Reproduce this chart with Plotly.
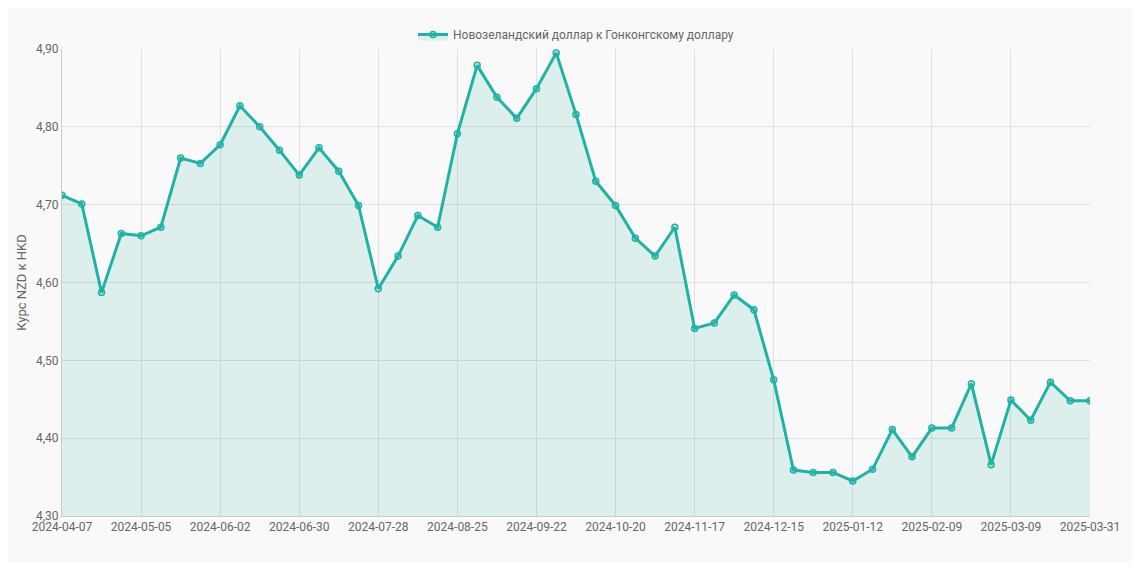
import plotly.graph_objects as go
import datetime as dt

start = dt.date(2024, 4, 7)
dates = [(start + dt.timedelta(weeks=i)).isoformat() for i in range(52)] + ["2025-03-31"]
values = [4.712, 4.701, 4.587, 4.663, 4.660, 4.671, 4.760, 4.753, 4.777, 4.827,
          4.800, 4.770, 4.738, 4.773, 4.743, 4.699, 4.592, 4.634, 4.686, 4.671,
          4.791, 4.879, 4.838, 4.811, 4.849, 4.895, 4.816, 4.730, 4.699, 4.657,
          4.634, 4.671, 4.541, 4.548, 4.584, 4.565, 4.475, 4.359, 4.356, 4.356,
          4.345, 4.360, 4.411, 4.376, 4.413, 4.413, 4.470, 4.366, 4.449, 4.423,
          4.472, 4.448, 4.448]
tick_idx = list(range(0, 49, 4)) + [52]
tick_labels = [dates[i] for i in tick_idx]

color = "#20b2a6"
fig = go.Figure(go.Scatter(
    x=dates, y=values, mode="lines+markers",
    name="Новозеландский доллар к Гонконгскому доллару",
    line=dict(color=color, width=3),
    marker=dict(size=6, color="rgba(32,178,166,0.25)", line=dict(color=color, width=1.5)),
    fill="tozeroy", fillcolor="rgba(32,178,166,0.13)",
))
fig.update_layout(
    width=1124, height=554, paper_bgcolor="#f9f9f9", plot_bgcolor="#f9f9f9",
    margin=dict(l=54, r=26, t=24, b=46),
    font=dict(family="Roboto, Arial", size=12, color="#666"),
    separators=",.",
    showlegend=True,
    legend=dict(orientation="h", x=0.5, xanchor="center", y=1.0, yanchor="bottom",
                font=dict(size=12, color="#666")),
    xaxis=dict(type="category", tickmode="array", tickvals=tick_labels, ticktext=tick_labels,
               showgrid=True, gridcolor="#e0e0e0", linecolor="#ccc", range=[0, 52], tickangle=0),
    yaxis=dict(range=[4.3, 4.9], dtick=0.1, tickformat=".2f", showgrid=True, gridcolor="#e0e0e0",
               linecolor="#ccc", title=dict(text="Курс NZD к HKD", font=dict(size=13), standoff=6)),
)
fig.write_html("out.html")
